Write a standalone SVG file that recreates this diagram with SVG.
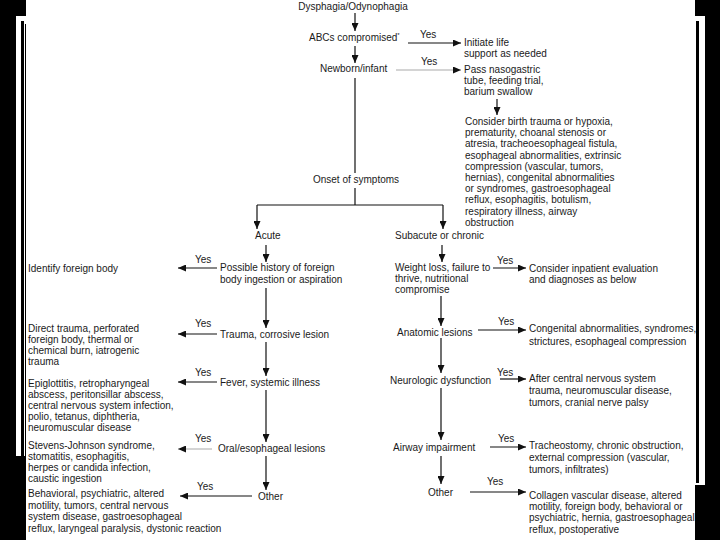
<svg xmlns="http://www.w3.org/2000/svg" width="720" height="540" viewBox="0 0 720 540">
<defs>
<marker id="ah" markerUnits="userSpaceOnUse" markerWidth="9" markerHeight="7" refX="8" refY="3.5" orient="auto">
<path d="M0,0 L8,3.5 L0,7 z" fill="#111"/>
</marker>
<style>
text{font-family:"Liberation Sans",Arial,sans-serif;font-size:10px;fill:#1a1a1a}
.c line,.c path{stroke:#111;stroke-width:1.2;fill:none}
.c .a{marker-end:url(#ah)}
.c .g{stroke:#aaa}
</style>
</defs>
<rect x="0" y="0" width="720" height="540" fill="#000"/>
<rect x="16" y="16" width="10" height="440" fill="#fff"/>
<rect x="695" y="16" width="10" height="469" fill="#fff"/>
<rect x="21" y="21" width="3" height="440" fill="#000"/>
<rect x="25" y="24" width="1" height="437" fill="#000"/>
<rect x="696" y="21" width="3" height="462" fill="#000"/>
<rect x="26" y="0" width="669" height="540" fill="#fff"/>

<g class="c" id="connectors">
<line class="a" x1="355" y1="13" x2="355" y2="31"/>
<line class="a" x1="408" y1="43" x2="461" y2="43"/>
<line class="a" x1="355" y1="46" x2="355" y2="63"/>
<line class="a g" x1="396" y1="70" x2="461" y2="70"/>
<line class="a" x1="497" y1="99" x2="497" y2="115"/>
<line x1="355" y1="78" x2="355" y2="173"/>
<line x1="355" y1="188" x2="355" y2="205"/>
<line x1="257" y1="205" x2="443" y2="205"/>
<line class="a" x1="257" y1="205" x2="257" y2="229"/>
<line class="a" x1="443" y1="205" x2="443" y2="229"/>
<line class="a" x1="266" y1="245" x2="266" y2="262"/>
<line class="a" x1="442" y1="245" x2="442" y2="262"/>
<line class="a" x1="217" y1="268" x2="178" y2="268"/>
<line class="a" x1="493" y1="268" x2="526" y2="268"/>
<line class="a" x1="266" y1="288" x2="266" y2="328"/>
<line class="a" x1="217" y1="334" x2="178" y2="334"/>
<line class="a" x1="441" y1="296" x2="441" y2="326"/>
<line class="a" x1="478" y1="330" x2="526" y2="330"/>
<line class="a" x1="266" y1="342" x2="266" y2="376"/>
<line class="a" x1="217" y1="382" x2="178" y2="382"/>
<line class="a" x1="441" y1="338" x2="441" y2="373"/>
<line class="a" x1="500" y1="379" x2="526" y2="379"/>
<line class="a" x1="266" y1="390" x2="266" y2="442"/>
<line class="a g" x1="212" y1="449" x2="178" y2="449"/>
<line class="a" x1="441" y1="388" x2="441" y2="440"/>
<line class="a" x1="490" y1="447" x2="526" y2="447"/>
<line class="a" x1="266" y1="456" x2="266" y2="490"/>
<line class="a" x1="252" y1="496" x2="180" y2="496"/>
<line class="a" x1="441" y1="456" x2="441" y2="484"/>
<line class="a" x1="470" y1="492" x2="526" y2="492"/>
</g>

<g id="labels">
<text x="420" y="38">Yes</text>
<text x="421" y="65">Yes</text>
<text x="195" y="263">Yes</text>
<text x="497" y="264">Yes</text>
<text x="195" y="327">Yes</text>
<text x="498" y="325">Yes</text>
<text x="195" y="376">Yes</text>
<text x="497" y="376">Yes</text>
<text x="195" y="442">Yes</text>
<text x="498" y="442">Yes</text>
<text x="197" y="490">Yes</text>
<text x="487" y="485">Yes</text>
</g>

<g id="n-dysphagia"><text x="353" y="10" text-anchor="middle">Dysphagia/Odynophagia</text></g>
<g id="n-abc"><text x="309" y="41">ABCs compromised<tspan font-size="6" dy="-4">*</tspan></text></g>
<g id="n-initiate"><text x="464" y="46">Initiate life</text><text x="464" y="57">support as needed</text></g>
<g id="n-newborn"><text x="320" y="72">Newborn/infant</text></g>
<g id="n-pass"><text x="464" y="73">Pass nasogastric</text><text x="464" y="84">tube, feeding trial,</text><text x="464" y="95">barium swallow</text></g>
<g id="n-consider">
<text x="465" y="125">Consider birth trauma or hypoxia,</text>
<text x="465" y="136.2">prematurity, choanal stenosis or</text>
<text x="465" y="147.4">atresia, tracheoesophageal fistula,</text>
<text x="465" y="158.6">esophageal abnormalities, extrinsic</text>
<text x="465" y="169.8">compression (vascular, tumors,</text>
<text x="465" y="181">hernias), congenital abnormalities</text>
<text x="465" y="192.2">or syndromes, gastroesophageal</text>
<text x="465" y="203.4">reflux, esophagitis, botulism,</text>
<text x="465" y="214.6">respiratory illness, airway</text>
<text x="465" y="225.8">obstruction</text>
</g>
<g id="n-onset"><text x="356" y="183" text-anchor="middle">Onset of symptoms</text></g>
<g id="n-acute"><text x="255" y="239">Acute</text></g>
<g id="n-subacute"><text x="395" y="239">Subacute or chronic</text></g>
<g id="n-possible"><text x="220" y="271">Possible history of foreign</text><text x="220" y="283">body ingestion or aspiration</text></g>
<g id="n-identify"><text x="28" y="272">Identify foreign body</text></g>
<g id="n-weight"><text x="395" y="271">Weight loss, failure to</text><text x="395" y="282">thrive, nutritional</text><text x="395" y="293">compromise</text></g>
<g id="n-inpatient"><text x="529" y="272">Consider inpatient evaluation</text><text x="529" y="283">and diagnoses as below</text></g>
<g id="n-trauma"><text x="220" y="338">Trauma, corrosive lesion</text></g>
<g id="n-direct"><text x="28" y="332">Direct trauma, perforated</text><text x="28" y="343">foreign body, thermal or</text><text x="28" y="354">chemical burn, iatrogenic</text><text x="28" y="365">trauma</text></g>
<g id="n-fever"><text x="220" y="386">Fever, systemic illness</text></g>
<g id="n-epiglottitis"><text x="28" y="387">Epiglottitis, retropharyngeal</text><text x="28" y="398">abscess, peritonsillar abscess,</text><text x="28" y="409">central nervous system infection,</text><text x="28" y="420">polio, tetanus, diphtheria,</text><text x="28" y="431">neuromuscular disease</text></g>
<g id="n-oral"><text x="218" y="452">Oral/esophageal lesions</text></g>
<g id="n-stevens"><text x="28" y="449">Stevens-Johnson syndrome,</text><text x="28" y="460">stomatitis, esophagitis,</text><text x="28" y="471">herpes or candida infection,</text><text x="28" y="482">caustic ingestion</text></g>
<g id="n-other-l"><text x="258" y="500">Other</text></g>
<g id="n-behavioral"><text x="28" y="497">Behavioral, psychiatric, altered</text><text x="28" y="508.5">motility, tumors, central nervous</text><text x="28" y="520">system disease, gastroesophageal</text><text x="28" y="531.5">reflux, laryngeal paralysis, dystonic reaction</text></g>
<g id="n-anatomic"><text x="397" y="336">Anatomic lesions</text></g>
<g id="n-congenital"><text x="529" y="332">Congenital abnormalities, syndromes,</text><text x="529" y="345">strictures, esophageal compression</text></g>
<g id="n-neuro"><text x="390" y="384">Neurologic dysfunction</text></g>
<g id="n-after"><text x="529" y="382">After central nervous system</text><text x="529" y="394">trauma, neuromuscular disease,</text><text x="529" y="406">tumors, cranial nerve palsy</text></g>
<g id="n-airway"><text x="393" y="451">Airway impairment</text></g>
<g id="n-tracheo"><text x="529" y="449">Tracheostomy, chronic obstruction,</text><text x="529" y="461">external compression (vascular,</text><text x="529" y="473">tumors, infiltrates)</text></g>
<g id="n-other-r"><text x="428" y="496">Other</text></g>
<g id="n-collagen"><text x="529" y="499">Collagen vascular disease, altered</text><text x="529" y="510">motility, foreign body, behavioral or</text><text x="529" y="521">psychiatric, hernia, gastroesophageal</text><text x="529" y="532.5">reflux, postoperative</text></g>
</svg>
